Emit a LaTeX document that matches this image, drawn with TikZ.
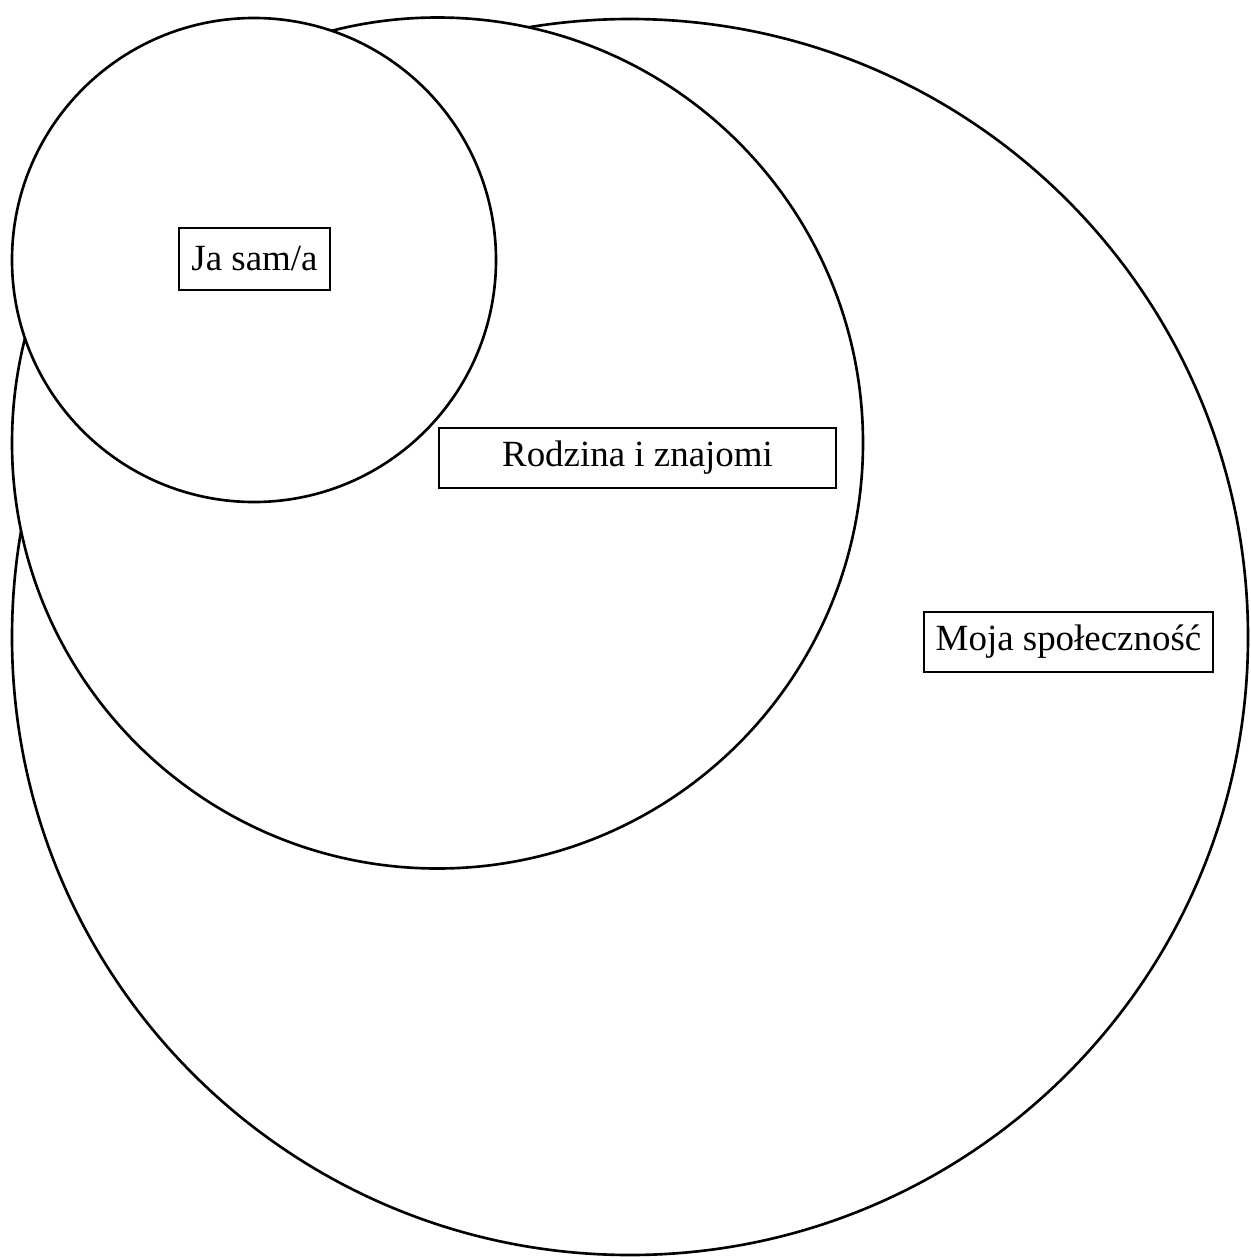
\documentclass[tikz,border=0pt]{standalone}
\usepackage{fontspec}
\setmainfont{Liberation Serif}
\usepackage{tikz}
\tikzset{ring/.style={draw, fill=white, line width=.75pt},
	namebox/.style={draw, fill=white, line width=.75pt, inner sep=0pt, font=\fontsize{10.5}{12}\selectfont}}

\begin{document}
\begin{tikzpicture}[x=.01cm,y=-.01cm]
		\useasboundingbox (0,0) rectangle (1250,1260);
		
		\draw[ring] (630,637) circle (618);
		\draw[ring] (437.5,443) circle (425.5);
		\draw[ring] (254,260) circle (242);
		
		\node[namebox, minimum width=1.51cm, minimum height=.62cm] (self) at (254.5,259) {Ja sam/a};
		\node[namebox, minimum width=3.97cm, minimum height=.60cm] (family) at (637.5,458) {Rodzina i znajomi};
		\node[namebox, minimum width=2.89cm, minimum height=.60cm] (community) at (1068.5,642) {Moja społeczność};
	\end{tikzpicture}
\end{document}
